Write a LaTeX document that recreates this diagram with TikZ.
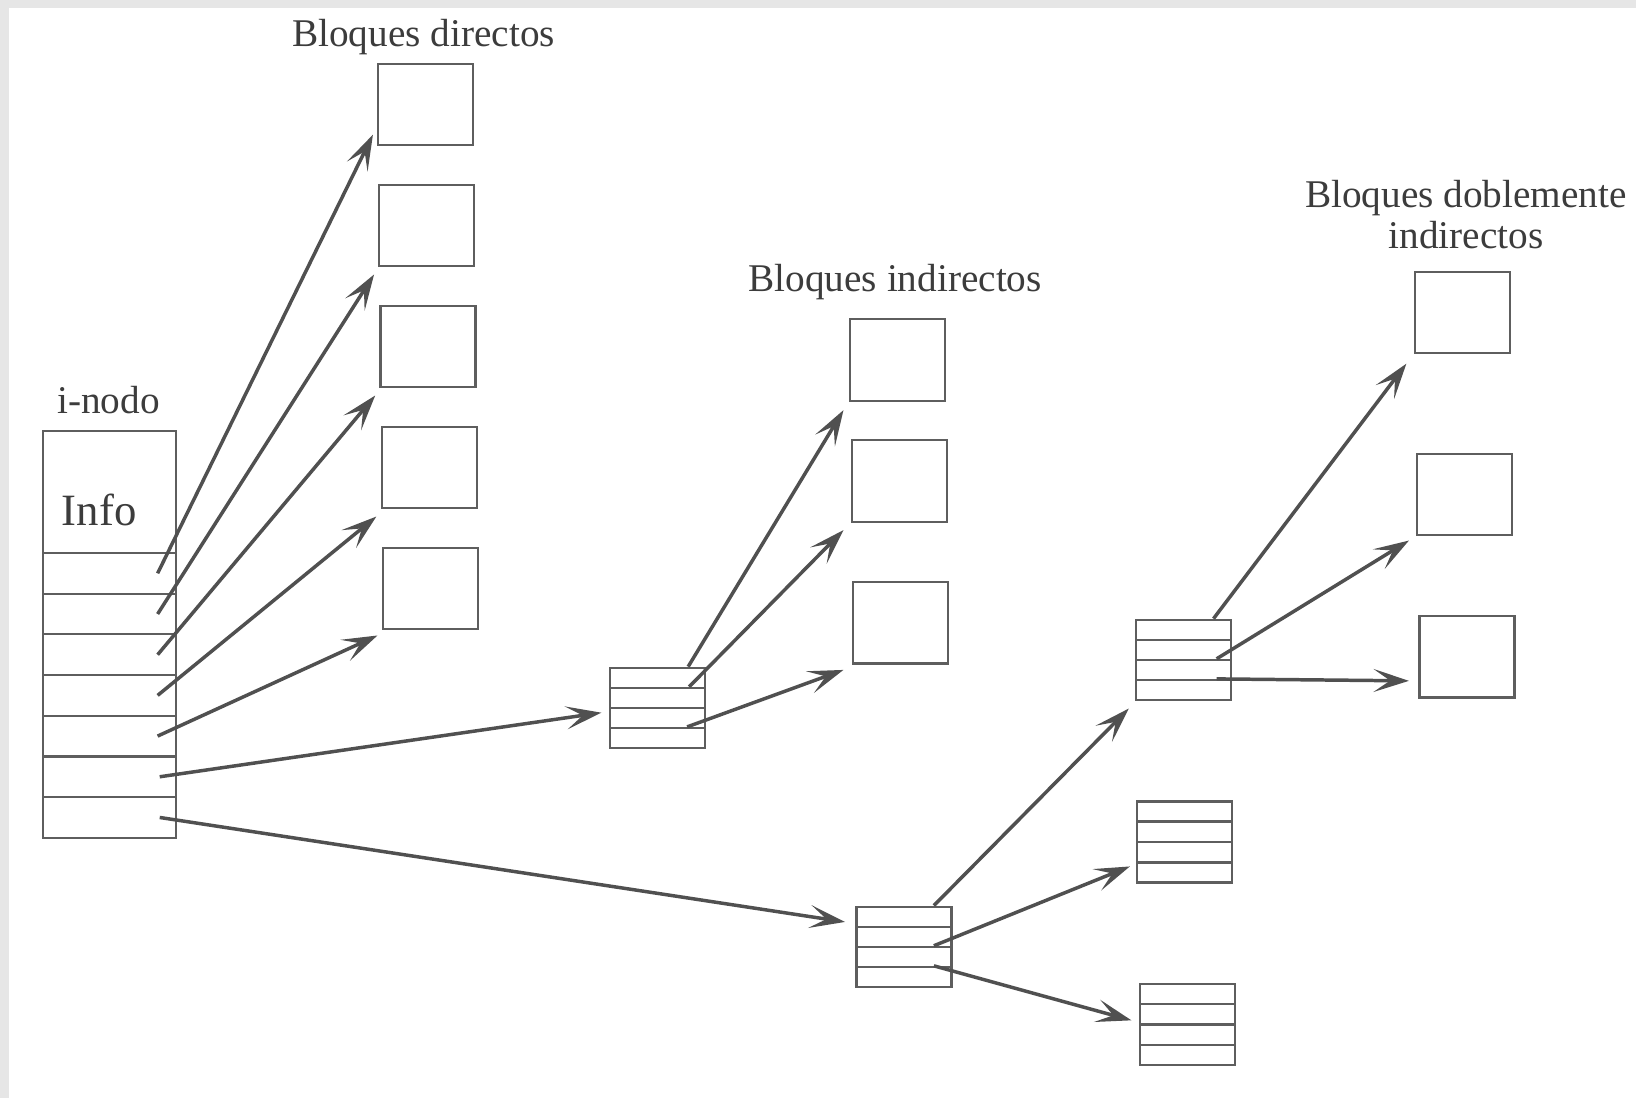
\documentclass[tikz,border=0pt]{standalone}
\usepackage{fontspec}
\setmainfont{Liberation Serif}
\usetikzlibrary{arrows.meta,positioning}
\definecolor{boxgray}{HTML}{5E5E5E}
\definecolor{arrowgray}{HTML}{505050}
\definecolor{textgray}{HTML}{3C3C3C}
\definecolor{framegray}{HTML}{E6E6E6}

\begin{document}
\begin{tikzpicture}[x=0.01cm, y=-0.01cm,
  block/.style={draw=boxgray, line width=0.6pt, minimum width=0.91cm, minimum height=0.78cm, inner sep=0pt},
  cell/.style={draw=boxgray, line width=0.6pt, minimum width=0.91cm, minimum height=0.1925cm, inner sep=0pt},
  irow/.style={draw=boxgray, line width=0.6pt, minimum width=1.28cm, minimum height=0.39cm, inner sep=0pt},
  blocklabel/.style={text=textgray, font=\fontsize{10.7}{11.1}\selectfont, inner sep=0pt},
  ptr/.style={-{Stealth[length=0.34cm,width=0.22cm,inset=0.16cm]}, draw=arrowgray, line width=0.95pt}]

\useasboundingbox (0,0) rectangle (1568,1052);
\fill[framegray] (0,0) rectangle (1568,8);
\fill[framegray] (0,0) rectangle (9,1052);

% i-nodo
\node[blocklabel] (inode_title) at (104,383) {i-nodo};
\node[draw=boxgray, line width=0.6pt, minimum width=1.28cm, minimum height=1.17cm, inner sep=0pt] (inode_info) at (105,471.5) {};
\node[text=textgray, font=\fontsize{12.2}{14}\selectfont, inner sep=0pt] (info_text) at (95,489) {Info};
\foreach \k in {1,...,7}
  \node[irow] (inode_\k) at (105,{530+39*(\k-0.5)}) {};

% bloques directos
\node[blocklabel] (direct_title) at (406,36) {Bloques directos};
\foreach \k in {1,...,5}
  \node[block] (direct_\k) at ({408+1.1*(\k-1)},{100+116*(\k-1)}) {};

% bloques indirectos
\node[blocklabel] (indirect_title) at (858,270) {Bloques indirectos};
\node[block] (indirect_1) at (860,345) {};
\node[block] (indirect_2) at (862,461) {};
\node[block] (indirect_3) at (863,597) {};

% bloques doblemente indirectos
\node[blocklabel, align=center] (double_title) at (1405,206) {Bloques doblemente\\indirectos};
\node[block] (double_1) at (1401.5,299.5) {};
\node[block] (double_2) at (1404,474) {};
\node[block] (double_3) at (1406,629.5) {};

% tablas de punteros
\foreach \k in {1,...,4} {
  \node[cell] (single_\k) at (630,{640+19.25*(\k-0.5)}) {};
  \node[cell] (dind_\k) at (866.5,{869+19.25*(\k-0.5)}) {};
  \node[cell] (sub_a_\k) at (1134.5,{594+19.25*(\k-0.5)}) {};
  \node[cell] (sub_b_\k) at (1135.5,{768+19.5*(\k-0.5)}) {};
  \node[cell] (sub_c_\k) at (1138,{943+19.5*(\k-0.5)}) {};
}

% punteros del i-nodo
\draw[ptr] ([xshift=-0.19cm]inode_1.east) to ([xshift=-0.04cm,yshift=0.11cm]direct_1.south west);
\draw[ptr] ([xshift=-0.19cm]inode_2.east) to ([xshift=-0.04cm,yshift=-0.07cm]direct_2.south west);
\draw[ptr] ([xshift=-0.19cm]inode_3.east) to ([xshift=-0.04cm,yshift=-0.07cm]direct_3.south west);
\draw[ptr] ([xshift=-0.19cm]inode_4.east) to ([xshift=-0.04cm,yshift=-0.07cm]direct_4.south west);
\draw[ptr] ([xshift=-0.19cm]inode_5.east) to ([xshift=-0.04cm,yshift=-0.05cm]direct_5.south west);
\draw[ptr] ([xshift=-0.17cm]inode_6.east) to ([xshift=-0.07cm,yshift=-0.035cm]single_2.south west);
\draw[ptr] ([xshift=-0.17cm]inode_7.east) to ([xshift=-0.1cm,yshift=-0.05cm]dind_1.west);

% indirectos
\draw[ptr] ([xshift=-0.17cm]single_1.north east) to ([xshift=-0.05cm,yshift=-0.08cm]indirect_1.south west);
\draw[ptr] ([xshift=-0.16cm]single_2.north east) to ([xshift=-0.07cm,yshift=-0.07cm]indirect_2.south west);
\draw[ptr] ([xshift=-0.18cm]single_4.north east) to ([xshift=-0.08cm,yshift=-0.05cm]indirect_3.south west);

% doblemente indirectos
\draw[ptr] ([xshift=-0.18cm]dind_1.north east) to ([xshift=-0.06cm,yshift=-0.07cm]sub_a_4.south west);
\draw[ptr] ([xshift=-0.18cm]dind_3.north east) to ([xshift=-0.06cm,yshift=-0.03cm]sub_b_3.south west);
\draw[ptr] ([xshift=-0.18cm]dind_4.north east) to ([xshift=-0.07cm,yshift=0.05cm]sub_c_2.south west);
\draw[ptr] ([xshift=-0.18cm]sub_a_1.north east) to ([xshift=-0.07cm,yshift=-0.09cm]double_1.south west);
\draw[ptr] ([xshift=-0.15cm]sub_a_3.north east) to ([xshift=-0.07cm,yshift=-0.04cm]double_2.south west);
\draw[ptr] ([xshift=-0.15cm]sub_a_4.north east) to ([xshift=-0.09cm,yshift=0.17cm]double_3.south west);

\end{tikzpicture}
\end{document}
